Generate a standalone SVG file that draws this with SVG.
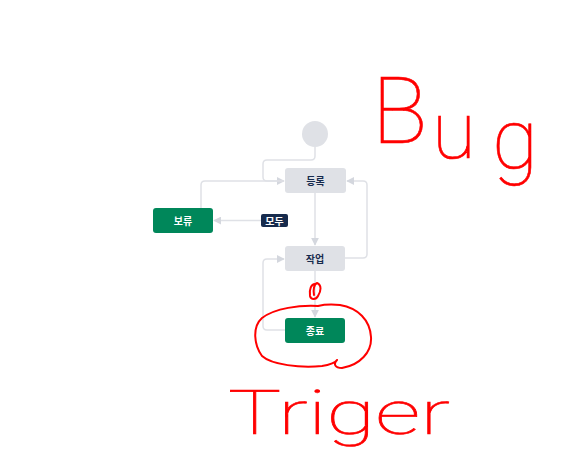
<svg xmlns="http://www.w3.org/2000/svg" width="565" height="458" viewBox="0 0 565 458">
  <style>
    .node { fill: #dfe1e6; }
    .done { fill: #00875a; }
    .lbl { font-family: "Noto Sans CJK KR", "Noto Sans", sans-serif; font-size: 10px; font-weight: 700; text-anchor: middle; }
    .dark { fill: #172b4d; }
    .light { fill: #ffffff; }
    .edge { fill: none; stroke: #dfe1e6; stroke-width: 1.5; }
    .ink { fill: none; stroke: #ff0000; stroke-width: 2; stroke-linecap: round; stroke-linejoin: round; }
    .hand { font-family: Roboto, "Liberation Sans", sans-serif; font-weight: 100; fill: #ff0000; stroke: #ff0000; stroke-width: 0.6; }
  </style>
  <defs>
    <marker id="arr" viewBox="0 0 10 10" refX="9" refY="5" markerWidth="8" markerHeight="8" markerUnits="userSpaceOnUse" orient="auto">
      <path d="M0,0 L10,5 L0,10 z" fill="#d4d7de"/>
    </marker>
  </defs>

  <g id="connectors">
    <path class="edge" d="M315,147 V156 Q315,160 311,160 H267 Q263,160 263,164 V177 Q263,181 267,181 H284" marker-end="url(#arr)"/>
    <path class="edge" d="M201,208 V185 Q201,181 205,181 H284"/>
    <path class="edge" d="M315,193 V245" marker-end="url(#arr)"/>
    <path class="edge" d="M261,220.5 H214" marker-end="url(#arr)"/>
    <path class="edge" d="M345,258 H363 Q367,258 367,254 V185 Q367,181 363,181 H347" marker-end="url(#arr)"/>
    <path class="edge" d="M315,271 V317" marker-end="url(#arr)"/>
    <path class="edge" d="M285,330 H267 Q263,330 263,326 V263 Q263,259 267,259 H284" marker-end="url(#arr)"/>
  </g>

  <g id="start">
    <circle cx="315" cy="134" r="13" class="node"/>
  </g>
  <g id="node-registered">
    <rect x="285" y="168" width="61" height="25" rx="3" class="node"/>
    <text x="315.5" y="184.5" class="lbl dark">등록</text>
  </g>
  <g id="node-hold">
    <rect x="153" y="208" width="60" height="25" rx="3" class="done"/>
    <text x="183" y="224.5" class="lbl light">보류</text>
  </g>
  <g id="label-all">
    <rect x="261" y="214" width="27" height="13" rx="2" fill="#172b4d"/>
    <text x="274.5" y="224.5" class="lbl light">모두</text>
  </g>
  <g id="node-work">
    <rect x="285" y="246" width="60" height="25" rx="3" class="node"/>
    <text x="315" y="262.5" class="lbl dark" font-weight="400">작업</text>
  </g>
  <g id="node-done">
    <rect x="285" y="318" width="60" height="25" rx="3" class="done"/>
    <text x="315" y="334.5" class="lbl light">종료</text>
  </g>

  <g id="annotations">
    <path class="ink" stroke-width="3.5" d="M316,284 C311,283 309,290 310,296 C311,300 316,300 318,296 C321,291 322,285 317,283 C314,284 313,290 314,295"/>
    <path class="ink" d="M318,306 C300,305 275,308 262,318 C252,327 254,345 262,356 C272,365 300,368 322,366 C330,365 336,362 337,360 C333,364 335,368 342,368 C360,365 372,352 371,337 C370,320 358,308 340,305 C330,304 322,305 318,306"/>
    <text class="hand" font-size="92"><tspan x="372" y="143">B</tspan><tspan x="432" y="158" font-size="80">u</tspan><tspan x="492" y="168" font-size="84">g</tspan></text>
    <text class="hand" x="228" y="434" font-size="62" textLength="222" lengthAdjust="spacingAndGlyphs">Triger</text>
  </g>
</svg>
